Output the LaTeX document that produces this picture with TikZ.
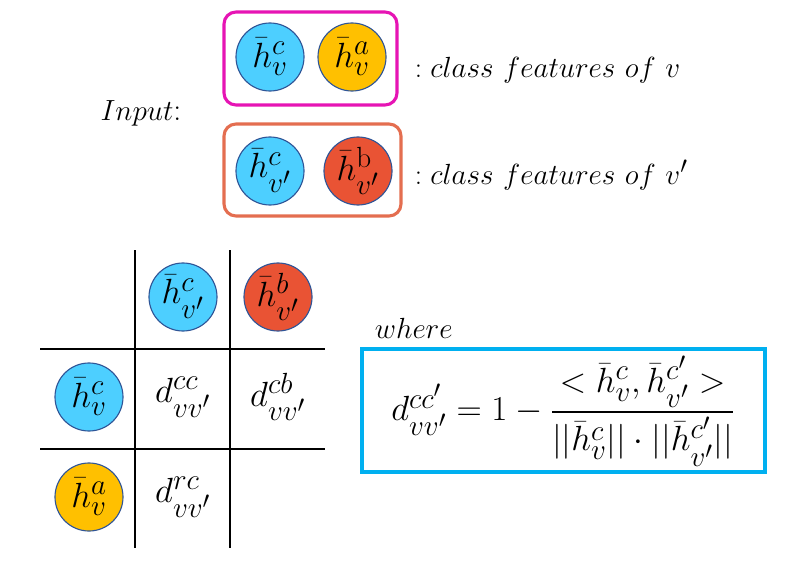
\documentclass[tikz,border=0pt]{standalone}
\usepackage{amsmath}
\DeclareMathSizes{22.5}{22.5}{16}{12}
\DeclareMathSizes{30}{30}{22}{17}
\definecolor{featblue}{RGB}{77,207,255}
\definecolor{featgold}{RGB}{255,192,0}
\definecolor{featred}{RGB}{233,83,52}
\definecolor{ringblue}{RGB}{47,85,151}
\definecolor{boxpink}{RGB}{230,20,180}
\definecolor{boxorange}{RGB}{228,110,80}
\definecolor{boxcyan}{RGB}{0,176,240}
\newcommand{\labelsize}{\fontsize{22.5}{26}\selectfont}
\newcommand{\mathhuge}{\fontsize{30}{34}\selectfont}
\begin{document}
\begin{tikzpicture}[x=0.025cm,y=-0.025cm,every node/.style={font=\labelsize},
  feat/.style={circle, draw=ringblue, line width=0.8pt, minimum size=1.7cm, inner sep=0pt, font=\mathhuge}]
\useasboundingbox (0,0) rectangle (789,564);
% input features
\node (input) at (141,113) {$Input$:};
\draw[rounded corners=0.3cm, draw=boxpink, line width=2.2pt] (224,12) rectangle (397,105);
\node[feat, fill=featblue] (hvc) at (270,57) {$\bar{h}^{c}_{v}$};
\node[feat, fill=featgold] (hva) at (352,57) {$\bar{h}^{a}_{v}$};
\node[anchor=west] (lblv) at (410,70) {$:class\ features\ of\ v$};
\draw[rounded corners=0.3cm, draw=boxorange, line width=2.2pt] (224,124) rectangle (401,216);
\node[feat, fill=featblue] (hwc) at (270,171) {$\bar{h}^{c}_{v'}$};
\node[feat, fill=featred] (hwb) at (358,171) {$\bar{h}^{\mathrm{b}}_{v'}$};
\node[anchor=west] (lblw) at (410,175) {$:class\ features\ of\ v'$};
% distance table
\foreach \x in {135,230}{
  \draw[line width=1.2pt] (\x,250) -- (\x,548);
}
\foreach \y in {349,449}{
  \draw[line width=1.2pt] (40,\y) -- (325,\y);
}
\node[feat, fill=featblue] (colc) at (183,297) {$\bar{h}^{c}_{v'}$};
\node[feat, fill=featred] (colb) at (278,297) {$\bar{h}^{b}_{v'}$};
\node[feat, fill=featblue] (rowc) at (89,397) {$\bar{h}^{c}_{v}$};
\node[feat, fill=featgold] (rowa) at (89,497) {$\bar{h}^{a}_{v}$};
\node[font=\mathhuge] (dcc) at (183,397) {$d^{cc}_{vv'}$};
\node[font=\mathhuge] (dcb) at (278,397) {$d^{cb}_{vv'}$};
\node[font=\mathhuge] (drc) at (183,497) {$d^{rc}_{vv'}$};
% definition
\node[anchor=west] (where) at (370,328) {$where$};
\draw[draw=boxcyan, line width=2.2pt] (362,349) rectangle (765,472);
\node[font=\mathhuge] (dist) at (563,411) {$d^{cc'}_{vv'} = 1 - \dfrac{<\bar{h}^{c}_{v},\bar{h}^{c'}_{v'}>}{||\bar{h}^{c}_{v}||\cdot||\bar{h}^{c'}_{v'}||}$};
\end{tikzpicture}
\end{document}
